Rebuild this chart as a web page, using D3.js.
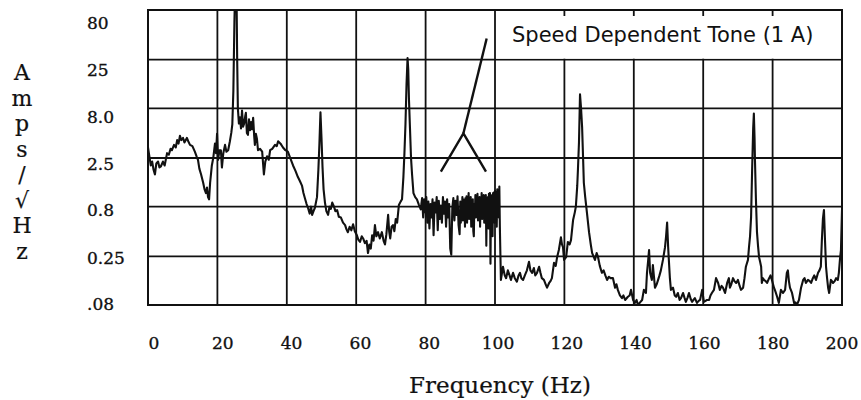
<!DOCTYPE html>
<html>
<head>
<meta charset="utf-8">
<script src="https://cdn.jsdelivr.net/npm/d3@7"></script>
<style>
  html, body { margin: 0; padding: 0; background: #fff; }
  svg { display: block; }
</style>
</head>
<body>
<svg id="chart" width="861" height="400"></svg>
<script>
// Current spectrum, amplitude in A/√Hz versus frequency in Hz.
const xTicks = [0, 20, 40, 60, 80, 100, 120, 140, 160, 180, 200];
const yTicks = [0.08, 0.25, 0.8, 2.5, 8, 25, 80];
const yTickLabels = [".08", "0.25", "0.8", "2.5", "8.0", "25", "80"];
const yAxisTitle = ["A", "m", "p", "s", "/", "√", "H", "z"];
const xAxisTitle = "Frequency (Hz)";
const legendText = "Speed Dependent Tone (1 A)";

// 0 – 79 Hz: broadband hump with the 25, 50 and 75 Hz lines
const lowBand = [
  [0.0, 3.2], [0.4, 2.6], [0.8, 2.1], [1.2, 2.3], [1.6, 1.9], [2.0, 1.7], [2.4, 2.2], [2.9, 2.3],
  [3.3, 2.0], [3.7, 2.05], [4.3, 2.3], [4.8, 2.1], [5.5, 2.8], [6.0, 2.7], [6.5, 3.1], [6.9, 3.0],
  [7.5, 3.4], [8.0, 3.2], [8.4, 3.8], [8.8, 3.5], [9.2, 4.2], [9.6, 3.8], [10.1, 4.0], [10.5, 3.6],
  [11.2, 4.0], [11.6, 3.7], [12.1, 3.4], [12.8, 3.3], [13.5, 2.9], [14.0, 2.6], [14.4, 2.4], [14.8, 1.95],
  [15.3, 1.7], [15.9, 1.4], [16.3, 1.2], [16.7, 1.1], [17.0, 1.25], [17.3, 1.0], [17.6, 0.95], [17.9, 1.4],
  [18.4, 2.1], [18.8, 2.5], [19.3, 3.5], [19.6, 2.8], [19.9, 4.4], [20.2, 2.4], [20.6, 3.0], [21.0, 3.0],
  [21.3, 2.0], [21.7, 2.8], [22.2, 3.4], [22.6, 2.9], [23.1, 3.0], [23.6, 3.7], [24.0, 4.5], [24.3, 5.5],
  [24.6, 12], [24.9, 60], [25.1, 130], [25.5, 130], [25.7, 25], [25.9, 8.0], [26.2, 5.6], [26.5, 6.5],
  [26.8, 5.0], [27.1, 7.6], [27.4, 5.2], [27.7, 5.6], [28.0, 6.6], [28.2, 7.2], [28.5, 4.5], [28.8, 4.3],
  [29.1, 6.2], [29.4, 4.8], [29.7, 5.8], [30.0, 4.9], [30.3, 6.4], [30.6, 4.2], [30.8, 3.4], [31.1, 4.4],
  [31.4, 3.9], [31.7, 3.0], [32.3, 3.1], [32.9, 2.9], [33.4, 1.7], [33.8, 2.3], [34.3, 2.6], [34.8, 2.4],
  [35.2, 3.0], [35.8, 3.1], [36.6, 3.4], [37.1, 3.3], [37.5, 3.7], [38.2, 3.5], [38.9, 3.2], [39.6, 3.0],
  [40.3, 2.9], [41.0, 2.5], [41.8, 2.1], [42.5, 1.85], [43.2, 1.6], [43.8, 1.45], [44.4, 1.3], [44.8, 1.1],
  [45.2, 0.98], [45.7, 0.85], [46.1, 0.78], [46.6, 0.68], [47.0, 0.8], [47.3, 0.66], [47.7, 0.72], [48.1, 0.78],
  [48.7, 1.0], [49.1, 1.9], [49.4, 3.5], [49.7, 7.3], [50.0, 4.0], [50.3, 2.0], [50.6, 1.2], [51.0, 0.88],
  [51.4, 0.72], [51.9, 0.66], [52.3, 0.8], [52.7, 0.76], [53.1, 0.88], [53.6, 0.8], [54.0, 0.72], [54.5, 0.74],
  [55.0, 0.63], [55.6, 0.62], [56.2, 0.55], [56.8, 0.52], [57.2, 0.47], [57.6, 0.44], [58.1, 0.5], [58.6, 0.46],
  [59.1, 0.53], [59.6, 0.45], [60.2, 0.41], [60.6, 0.37], [61.1, 0.35], [61.6, 0.4], [62.0, 0.38], [62.5, 0.34],
  [63.0, 0.36], [63.4, 0.27], [63.8, 0.33], [64.2, 0.3], [64.6, 0.41], [65.0, 0.36], [65.4, 0.52], [65.8, 0.4],
  [66.3, 0.44], [66.8, 0.38], [67.4, 0.44], [67.9, 0.36], [68.3, 0.33], [68.7, 0.42], [69.2, 0.66], [69.5, 0.45],
  [69.8, 0.38], [70.2, 0.5], [70.6, 0.52], [71.0, 0.45], [71.4, 0.6], [71.8, 0.55], [72.3, 0.83], [72.8, 0.9],
  [73.2, 0.95], [73.6, 1.6], [73.9, 2.8], [74.2, 5.5], [74.5, 14], [74.8, 26], [75.0, 20], [75.2, 10],
  [75.5, 5.0], [75.8, 2.5], [76.1, 1.7], [76.5, 1.1], [77.0, 1.0], [77.5, 0.95], [78.1, 0.83], [78.6, 0.75]
];

// 79 – 101.5 Hz: dense noisy band
const noiseBand = [
  [79.0, 0.98], [79.3, 0.62], [79.6, 0.95], [79.9, 0.70], [80.2, 1.0], [80.5, 0.55], [80.8, 0.9], [81.1, 0.48],
  [81.4, 0.85], [81.7, 0.62], [82.0, 0.95], [82.3, 0.41], [82.6, 0.88], [82.9, 0.70], [83.2, 1.0], [83.5, 0.46],
  [83.8, 0.92], [84.1, 0.60], [84.4, 0.82], [84.7, 0.55], [85.0, 1.0], [85.3, 0.68], [85.6, 0.90], [85.9, 0.50],
  [86.2, 0.95], [86.5, 0.62], [86.8, 0.85], [87.1, 0.30], [87.4, 0.26], [87.7, 0.78], [88.0, 0.98], [88.3, 0.58],
  [88.6, 0.92], [88.9, 0.66], [89.2, 1.02], [89.5, 0.52], [89.8, 0.42],
  [90.0, 0.9], [90.15, 0.55], [90.3, 0.85], [90.45, 0.62], [90.6, 1.0], [90.75, 0.58], [90.9, 0.95], [91.05, 0.66],
  [91.2, 0.9], [91.35, 0.5], [91.5, 0.98], [91.65, 0.7], [91.8, 1.02], [91.95, 0.55], [92.1, 0.88], [92.25, 0.72],
  [92.4, 1.1], [92.55, 0.6], [92.7, 0.9], [92.85, 0.75], [93.0, 1.0], [93.15, 0.5], [93.3, 0.92], [93.45, 0.66],
  [93.6, 0.95], [93.75, 0.45], [93.9, 0.4], [94.05, 0.85], [94.2, 0.68], [94.35, 1.05], [94.5, 0.62], [94.65, 0.95],
  [94.8, 0.72], [94.95, 1.08], [95.1, 0.58], [95.25, 0.98], [95.4, 0.7], [95.55, 1.0], [95.7, 0.5], [95.85, 0.9],
  [96.0, 0.75], [96.15, 1.1], [96.3, 0.6], [96.45, 0.95], [96.6, 0.68], [96.75, 1.05], [96.9, 0.55], [97.05, 1.0],
  [97.2, 0.72], [97.35, 1.05], [97.5, 0.32], [97.65, 0.9], [97.8, 0.62], [97.95, 1.0], [98.1, 0.48], [98.25, 1.08],
  [98.4, 0.7], [98.55, 1.1], [98.7, 0.21], [98.85, 0.92], [99.0, 0.6], [99.15, 1.05], [99.3, 0.4], [99.45, 1.1],
  [99.6, 0.7], [99.75, 1.12], [99.9, 0.55], [100.05, 1.15], [100.2, 0.75], [100.35, 1.1], [100.5, 0.5], [100.65, 1.2],
  [100.8, 0.7], [100.95, 1.15], [101.1, 0.62], [101.25, 1.28], [101.4, 0.5]
];

// 101.5 – 200 Hz: low floor with the 125, 150, 175 and 195 Hz lines
const highBand = [
  [101.7, 0.144], [102.3, 0.196], [102.8, 0.16], [103.2, 0.15], [103.7, 0.18], [104.2, 0.16], [104.6, 0.144], [105.2, 0.17],
  [105.7, 0.15], [106.3, 0.138], [106.8, 0.16], [107.2, 0.17], [107.6, 0.15], [108.1, 0.144], [108.6, 0.16], [109.2, 0.18],
  [109.8, 0.22], [110.2, 0.18], [110.7, 0.17], [111.2, 0.19], [111.6, 0.16], [112.1, 0.17], [112.7, 0.196], [113.1, 0.17],
  [113.5, 0.15], [114.1, 0.144], [114.6, 0.13], [115.0, 0.12], [115.6, 0.134], [116.0, 0.14], [116.4, 0.15], [117.0, 0.215],
  [117.5, 0.2], [117.9, 0.245], [118.4, 0.29], [119.0, 0.39], [119.3, 0.33], [119.6, 0.31], [119.9, 0.23], [120.5, 0.245],
  [121.0, 0.35], [121.5, 0.33], [121.9, 0.366], [122.5, 0.585], [123.0, 0.7], [123.3, 0.8], [123.7, 1.3], [123.9, 1.9],
  [124.2, 3.6], [124.5, 11.1], [124.8, 8.0], [125.1, 5.2], [125.4, 2.4], [125.6, 1.4], [126.0, 1.0], [126.5, 0.69],
  [127.1, 0.44], [127.6, 0.33], [128.0, 0.27], [128.4, 0.25], [128.8, 0.23], [129.3, 0.27], [129.7, 0.245], [130.2, 0.2],
  [130.8, 0.17], [131.3, 0.18], [131.8, 0.16], [132.3, 0.144], [132.8, 0.155], [133.3, 0.15], [134.0, 0.15], [134.6, 0.12],
  [135.0, 0.13], [135.4, 0.114], [136.0, 0.1], [136.6, 0.094], [137.0, 0.1], [137.5, 0.09], [138.3, 0.097], [138.8, 0.1],
  [139.2, 0.114], [139.8, 0.09], [140.3, 0.084], [140.8, 0.09], [141.2, 0.08], [141.8, 0.085], [142.4, 0.09], [142.9, 0.114],
  [143.5, 0.106], [143.8, 0.17], [144.1, 0.22], [144.4, 0.29], [144.7, 0.17], [145.2, 0.144], [145.5, 0.204], [146.1, 0.12],
  [146.6, 0.13], [147.0, 0.144], [147.4, 0.16], [147.8, 0.18], [148.4, 0.23], [149.0, 0.31], [149.3, 0.4], [149.6, 0.55],
  [149.9, 0.31], [150.1, 0.23], [150.4, 0.15], [150.7, 0.114], [151.3, 0.12], [151.8, 0.1], [152.2, 0.097], [152.7, 0.106],
  [153.2, 0.09], [153.6, 0.094], [154.2, 0.106], [154.6, 0.095], [155.0, 0.086], [155.5, 0.095], [155.9, 0.106], [156.4, 0.092],
  [156.8, 0.086], [157.2, 0.09], [157.6, 0.094], [158.2, 0.084], [158.7, 0.088], [159.1, 0.09], [159.7, 0.114], [160.2, 0.086],
  [160.7, 0.088], [161.1, 0.09], [161.7, 0.09], [162.1, 0.1], [162.5, 0.106], [163.1, 0.114], [163.7, 0.15], [164.3, 0.134],
  [164.8, 0.114], [165.3, 0.125], [165.7, 0.12], [166.3, 0.106], [166.9, 0.134], [167.4, 0.15], [167.7, 0.12], [168.1, 0.13],
  [168.6, 0.15], [169.0, 0.14], [169.5, 0.134], [170.0, 0.144], [170.5, 0.125], [170.9, 0.114], [171.5, 0.12], [171.9, 0.15],
  [172.3, 0.196], [172.9, 0.23], [173.2, 0.31], [173.5, 0.4], [173.8, 0.63], [174.1, 1.9], [174.4, 5.0], [174.6, 7.1],
  [174.8, 4.0], [174.9, 2.55], [175.2, 0.94], [175.5, 0.44], [175.8, 0.32], [176.1, 0.245], [176.4, 0.22], [176.7, 0.196],
  [176.9, 0.134], [177.2, 0.15], [177.5, 0.144], [178.0, 0.14], [178.4, 0.134], [179.0, 0.15], [179.4, 0.16], [179.8, 0.144],
  [180.4, 0.12], [180.8, 0.11], [181.3, 0.097], [181.8, 0.084], [182.4, 0.114], [183.0, 0.106], [183.6, 0.114], [184.1, 0.17],
  [184.4, 0.18], [184.7, 0.14], [185.0, 0.12], [185.6, 0.106], [186.2, 0.084], [186.6, 0.085], [187.0, 0.08], [187.6, 0.09],
  [188.2, 0.12], [188.8, 0.144], [189.2, 0.15], [189.6, 0.134], [190.2, 0.144], [190.7, 0.14], [191.1, 0.134], [191.6, 0.15],
  [192.0, 0.16], [192.5, 0.144], [193.1, 0.17], [193.5, 0.18], [193.9, 0.196], [194.2, 0.366], [194.5, 0.6], [194.8, 0.74],
  [195.1, 0.366], [195.4, 0.196], [195.7, 0.15], [196.0, 0.12], [196.3, 0.106], [196.8, 0.144], [197.1, 0.14], [197.4, 0.134],
  [197.9, 0.14], [198.3, 0.15], [198.8, 0.144], [199.1, 0.17], [199.4, 0.23], [199.7, 0.29], [200.0, 0.74]
];

// Pointer from the legend down to the noisy band (stem, then a fork)
const pointerStem = [[97.6, 41], [90.9, 4.46]];
const pointerFork = [[84.4, 1.82], [90.9, 4.46], [97.4, 1.82]];

const spectrum = lowBand.concat(noiseBand, highBand);

const svg = d3.select("#chart");
const ink = "#111";
const plot = { left: 148, right: 842, top: 10, bottom: 305 };

const x = d3.scaleLinear().domain([0, 200]).range([plot.left, plot.right]);
const y = d3.scaleLog().domain([0.08, 80]).range([plot.bottom, plot.top]);
// tick text sits on its own slightly offset rows below/right of the grid
const xLabel = d3.scaleLinear().domain([0, 200]).range([154, 842]);
const yLabel = d3.scaleLog().domain([0.08, 80]).range([310, 29]);

// grid lines
const grid = svg.append("g").attr("stroke", ink).attr("stroke-width", 1.8);
grid.selectAll("line.v").data(xTicks.slice(1, -1)).join("line")
  .attr("class", "v")
  .attr("x1", d => x(d)).attr("x2", d => x(d))
  .attr("y1", plot.top).attr("y2", plot.bottom);
grid.selectAll("line.h").data(yTicks.slice(1, -1)).join("line")
  .attr("class", "h")
  .attr("x1", plot.left).attr("x2", plot.right)
  .attr("y1", d => y(d)).attr("y2", d => y(d));

// legend box (covers the grid, leaving short stubs at the top edge)
const legTop = y(80) + 6, legBottom = y(25) - 1;
svg.append("rect")
  .attr("x", x(100) + 1).attr("y", legTop)
  .attr("width", x(200) - x(100) - 2).attr("height", legBottom - legTop)
  .attr("fill", "#fff");
svg.append("text")
  .attr("x", x(100) + 17).attr("y", 42)
  .attr("font-family", "'DejaVu Sans', Verdana, sans-serif")
  .attr("font-size", 21)
  .attr("fill", ink)
  .text(legendText);

// frame
svg.append("rect")
  .attr("x", plot.left).attr("y", plot.top)
  .attr("width", plot.right - plot.left).attr("height", plot.bottom - plot.top)
  .attr("fill", "none").attr("stroke", ink).attr("stroke-width", 2);

// spectrum trace
svg.append("clipPath").attr("id", "plotClip")
  .append("rect")
  .attr("x", plot.left).attr("y", plot.top)
  .attr("width", plot.right - plot.left).attr("height", plot.bottom - plot.top);

const line = d3.line().x(d => x(d[0])).y(d => y(d[1]));
svg.append("path")
  .datum(spectrum)
  .attr("clip-path", "url(#plotClip)")
  .attr("d", line)
  .attr("fill", "none")
  .attr("stroke", ink)
  .attr("stroke-width", 2.1)
  .attr("stroke-linejoin", "round");

// pointer
[pointerStem, pointerFork].forEach(pts => {
  svg.append("path")
    .datum(pts)
    .attr("d", line)
    .attr("fill", "none")
    .attr("stroke", ink)
    .attr("stroke-width", 2.4)
    .attr("stroke-linejoin", "miter");
});

// tick labels (slightly heavier strokes for the old-style serif look)
const serif = "'DejaVu Serif', 'Liberation Serif', serif";
svg.append("g").selectAll("text").data(xTicks).join("text")
  .attr("x", d => xLabel(d)).attr("y", 349)
  .attr("text-anchor", "middle")
  .attr("font-family", serif).attr("font-size", 17)
  .attr("fill", ink).attr("stroke", ink).attr("stroke-width", 0.35)
  .text(d => d);

svg.append("g").selectAll("text").data(yTicks).join("text")
  .attr("x", 87).attr("y", d => yLabel(d))
  .attr("font-family", serif).attr("font-size", 17)
  .attr("fill", ink).attr("stroke", ink).attr("stroke-width", 0.35)
  .text((d, i) => yTickLabels[i]);

// axis titles
svg.append("text")
  .attr("x", 500).attr("y", 393)
  .attr("text-anchor", "middle")
  .attr("font-family", serif).attr("font-size", 23)
  .attr("fill", ink).attr("stroke", ink).attr("stroke-width", 0.2)
  .text(xAxisTitle);

svg.append("g").selectAll("text").data(yAxisTitle).join("text")
  .attr("x", 22).attr("y", (d, i) => 80 + i * 25.5)
  .attr("text-anchor", "middle")
  .attr("font-family", serif).attr("font-size", 22)
  .attr("fill", ink).attr("stroke", ink).attr("stroke-width", 0.2)
  .text(d => d);
</script>
</body>
</html>
